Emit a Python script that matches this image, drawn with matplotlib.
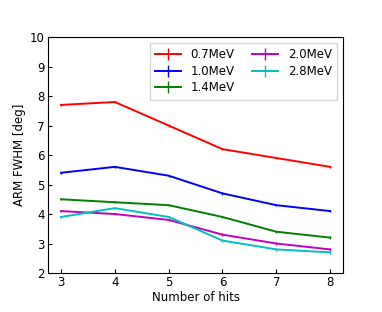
import matplotlib
matplotlib.use("Agg")
import matplotlib.pyplot as plt

hits = [3, 4, 5, 6, 7, 8]
labels = ["0.7MeV", "1.0MeV", "1.4MeV", "2.0MeV", "2.8MeV"]
colors = ["r", "b", "g", "m", "c"]
arm_07 = [7.7, 7.8, 7.0, 6.2, 5.9, 5.6]
arm_10 = [5.4, 5.6, 5.3, 4.7, 4.3, 4.1]
arm_14 = [4.5, 4.4, 4.3, 3.9, 3.4, 3.2]
arm_20 = [4.1, 4.0, 3.8, 3.3, 3.0, 2.8]
arm_28 = [3.9, 4.2, 3.9, 3.1, 2.8, 2.7]
errs = [0.04, 0.04, 0.04, 0.04, 0.04, 0.04]

series = [arm_07, arm_10, arm_14, arm_20, arm_28]

fig = plt.figure(figsize=(3.82, 3.12), dpi=100)
ax = fig.add_axes([0.126, 0.125, 0.772, 0.756])
for vals, lab, c in zip(series, labels, colors):
    ax.errorbar(hits, vals, yerr=errs, color=c, label=lab, lw=1.4, elinewidth=1.0)

ax.set_xlim(2.76, 8.24)
ax.set_ylim(2, 10)
ax.set_xticks(hits)
ax.set_yticks(range(2, 11))
ax.tick_params(direction="in", labelsize=8.5, length=3, pad=2.5)
ax.set_xlabel("Number of hits", fontsize=8.5, labelpad=1)
ax.set_ylabel("ARM FWHM [deg]", fontsize=8.5, labelpad=3)
ax.legend(ncol=2, fontsize=8.5, loc="upper right", handlelength=2.2,
          columnspacing=1.5, labelspacing=0.3, borderpad=0.45, fancybox=False)
fig.savefig("out.png", dpi=100)
